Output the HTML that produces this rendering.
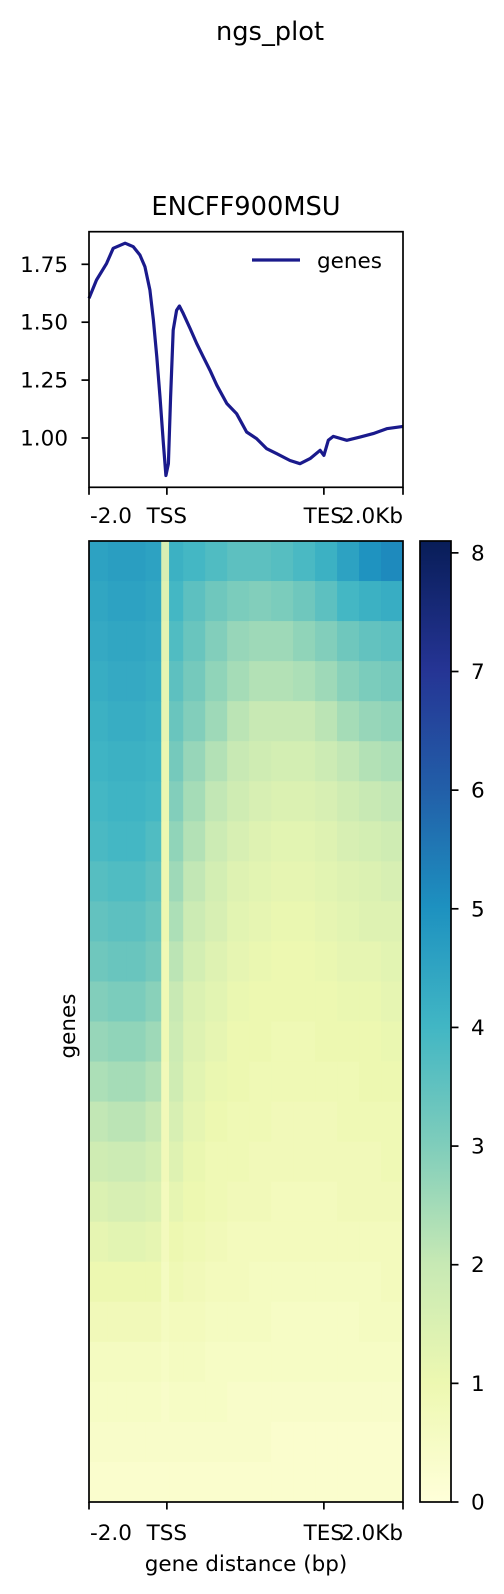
<!DOCTYPE html>
<html><head><meta charset="utf-8"><style>
html,body{margin:0;padding:0;background:#fff;}
svg{display:block;font-family:"DejaVu Sans","Liberation Sans",sans-serif;}
</style></head><body>
<svg id="fig" width="504" height="1594" viewBox="0 0 504 1594">
<defs>
<linearGradient id="cbgrad" x1="0" y1="1" x2="0" y2="0">
<stop offset="0" stop-color="#ffffd9"/><stop offset="0.1238" stop-color="#edf8b1"/>
<stop offset="0.2475" stop-color="#c7e9b4"/><stop offset="0.3713" stop-color="#7fcdbb"/>
<stop offset="0.495" stop-color="#41b6c4"/><stop offset="0.6188" stop-color="#1d91c0"/>
<stop offset="0.7426" stop-color="#225ea8"/><stop offset="0.8663" stop-color="#253494"/>
<stop offset="1" stop-color="#081d58"/>
</linearGradient>
</defs>
<text x="270" y="40" font-size="25.7" text-anchor="middle">ngs_plot</text>
<text x="246" y="215" font-size="25.7" text-anchor="middle">ENCFF900MSU</text>
<g id="profile"></g>
<g id="heat"></g>
<g id="cbar"></g>
<text transform="translate(75,1026) rotate(-90)" font-size="21.5" text-anchor="middle">genes</text>
<text x="246" y="1571" font-size="21.5" text-anchor="middle">gene distance (bp)</text>
</svg>
<script>
// profile data: position (0..100 across -2kb..TSS..TES..+2kb) and mean value
const profPos = [0,2.4,5.6,7.7,11.5,14.1,16.2,17.8,19.4,20.5,21.6,22.6,23.7,24.5,25.3,26.0,26.8,27.9,28.8,30.0,32.2,34.3,36.4,38.5,40.7,43.9,47.0,50.2,53.4,56.6,59.8,64.0,67.2,70.4,73.6,74.8,76.2,77.8,82.1,86.3,90.5,94.8,100];
const profVal = [1.603,1.682,1.754,1.819,1.841,1.826,1.79,1.74,1.639,1.509,1.35,1.177,0.975,0.838,0.889,1.177,1.466,1.552,1.57,1.538,1.473,1.408,1.35,1.293,1.228,1.149,1.105,1.026,0.997,0.954,0.932,0.903,0.889,0.911,0.947,0.925,0.99,1.007,0.99,1.004,1.019,1.04,1.05];
const yTicks = [1.00,1.25,1.50,1.75];
const yTickLabels = ["1.00","1.25","1.50","1.75"];
const xTicks = [0,24.8,74.8,100];
const xTickLabels = ["-2.0","TSS","TES","2.0Kb"];
// heatmap: column bin edges (same 0..100 domain) and row values
const colEdges = [0,6,12,18,23,25.5,30,37,44,51,58,65,72,79,86,93,100];
const heatRows = [
[4.6,4.7,4.7,4.6,1.6,4.2,4.0,3.8,3.6,3.6,3.7,3.9,4.2,4.6,5.0,5.2],
[4.5,4.6,4.6,4.5,1.4,4.0,3.6,3.3,3.1,3.0,3.1,3.3,3.6,4.0,4.2,4.3],
[4.4,4.5,4.5,4.4,1.3,3.8,3.4,3.0,2.7,2.6,2.6,2.8,3.0,3.3,3.5,3.6],
[4.3,4.4,4.4,4.3,1.2,3.6,3.2,2.8,2.5,2.3,2.3,2.4,2.6,2.9,3.1,3.2],
[4.2,4.3,4.3,4.2,1.2,3.4,3.0,2.6,2.2,2.0,2.0,2.0,2.2,2.5,2.7,2.8],
[4.1,4.2,4.2,4.1,1.1,3.2,2.7,2.3,2.0,1.8,1.7,1.7,1.9,2.1,2.3,2.4],
[4.0,4.1,4.1,4.0,1.1,3.0,2.5,2.1,1.8,1.6,1.5,1.5,1.6,1.8,2.0,2.1],
[3.9,4.0,4.0,3.8,1.0,2.8,2.3,1.9,1.6,1.4,1.3,1.3,1.4,1.6,1.7,1.8],
[3.7,3.8,3.8,3.6,1.0,2.6,2.1,1.7,1.4,1.3,1.2,1.2,1.3,1.4,1.5,1.6],
[3.5,3.6,3.6,3.4,1.0,2.4,1.9,1.6,1.3,1.2,1.1,1.1,1.2,1.3,1.4,1.4],
[3.3,3.4,3.4,3.2,0.9,2.2,1.7,1.4,1.2,1.1,1.0,1.0,1.1,1.2,1.2,1.3],
[3.0,3.1,3.1,2.9,0.9,2.0,1.5,1.3,1.1,1.0,1.0,1.0,1.0,1.1,1.1,1.2],
[2.7,2.8,2.8,2.6,0.9,1.9,1.4,1.2,1.0,1.0,0.9,0.9,1.0,1.0,1.0,1.1],
[2.4,2.5,2.5,2.3,0.8,1.8,1.3,1.1,1.0,0.9,0.9,0.9,0.9,0.9,1.0,1.0],
[2.1,2.2,2.2,2.0,0.8,1.6,1.2,1.0,0.9,0.9,0.8,0.8,0.8,0.9,0.9,0.9],
[1.8,1.9,1.9,1.7,0.8,1.4,1.1,0.9,0.9,0.8,0.8,0.8,0.8,0.8,0.8,0.9],
[1.5,1.6,1.6,1.5,0.7,1.2,1.0,0.9,0.8,0.8,0.7,0.7,0.7,0.8,0.8,0.8],
[1.2,1.3,1.3,1.2,0.7,1.0,0.9,0.8,0.7,0.7,0.7,0.7,0.7,0.7,0.7,0.7],
[1.0,1.0,1.0,1.0,0.6,0.9,0.8,0.7,0.7,0.6,0.6,0.6,0.6,0.6,0.6,0.7],
[0.8,0.8,0.8,0.8,0.6,0.7,0.7,0.6,0.6,0.6,0.5,0.5,0.5,0.5,0.6,0.6],
[0.6,0.6,0.6,0.6,0.5,0.6,0.6,0.5,0.5,0.5,0.5,0.5,0.5,0.5,0.5,0.5],
[0.5,0.5,0.5,0.5,0.4,0.5,0.5,0.5,0.4,0.4,0.4,0.4,0.4,0.4,0.4,0.4],
[0.4,0.4,0.4,0.4,0.4,0.4,0.4,0.4,0.4,0.4,0.3,0.3,0.3,0.3,0.3,0.3],
[0.3,0.3,0.3,0.3,0.3,0.3,0.3,0.3,0.3,0.3,0.3,0.3,0.3,0.3,0.3,0.3]
];
const cbTicks = [0,1,2,3,4,5,6,7,8];
const cbMax = 8.1;

const NS = "http://www.w3.org/2000/svg";
function mk(tag, attrs, parent){const e=document.createElementNS(NS,tag);for(const k in attrs)e.setAttribute(k,attrs[k]);parent.appendChild(e);return e;}
const AX = {l:89, r:403};
const xS = d => AX.l + (AX.r-AX.l)*d/100;
const P = {t:231.7, b:487.3};
const yS = v => 438 - (v-1.0)*231.6;
const cmapStops = ["#ffffd9","#edf8b1","#c7e9b4","#7fcdbb","#41b6c4","#1d91c0","#225ea8","#253494","#081d58"];
function hex(c){return [parseInt(c.slice(1,3),16),parseInt(c.slice(3,5),16),parseInt(c.slice(5,7),16)];}
function cmap(v){let t=Math.max(0,Math.min(1,v/cbMax))*8;let i=Math.min(7,Math.floor(t));let f=t-i;const a=hex(cmapStops[i]),b=hex(cmapStops[i+1]);return "rgb("+a.map((x,k)=>Math.round(x+(b[k]-x)*f)).join(",")+")";}

// profile
const pg=document.getElementById('profile');
let d=profPos.map((p,i)=>(i?"L":"M")+xS(p).toFixed(1)+","+yS(profVal[i]).toFixed(1)).join("");
const line=mk('path',{d:d,fill:"none",stroke:"#1a1a8c","stroke-width":3.2,"stroke-linejoin":"round"},pg);


const pframe=mk('rect',{x:AX.l,y:P.t,width:AX.r-AX.l,height:P.b-P.t,fill:"none",stroke:"#000","stroke-width":1.7},pg);


yTicks.forEach((v,i)=>{const y=yS(v);
 mk('line',{x1:AX.l-7.5,x2:AX.l,y1:y,y2:y,stroke:"#000","stroke-width":1.7},pg);
 const t=mk('text',{x:68,y:y+7.5,"font-size":21.5,"text-anchor":"end"},pg);t.textContent=yTickLabels[i];
 
 
});
function xAxis(g,yb,ty){xTicks.forEach((p,i)=>{const x=xS(p);
 mk('line',{x1:x,x2:x,y1:yb,y2:yb+7.5,stroke:"#000","stroke-width":1.7},g);
 const anc=i==0?"start":(i==3?"end":"middle");
 const t=mk('text',{x:i==0?x+1:(i==3?x:x),y:ty,"font-size":21.5,"text-anchor":anc},g);t.textContent=xTickLabels[i];
 
 
});}
xAxis(pg,P.b,523);
mk('line',{x1:252,x2:300,y1:260,y2:260,stroke:"#1a1a8c","stroke-width":3.2},pg);
const lg=mk('text',{x:317,y:268,"font-size":21.5},pg);lg.textContent="genes";



// heatmap
const hg=document.getElementById('heat');
const H={t:541,b:1502};const rowH=(H.b-H.t)/heatRows.length;
heatRows.forEach((row,r)=>{row.forEach((v,c)=>{
 const x0=xS(colEdges[c]),x1=xS(colEdges[c+1]);
 const cell=mk('rect',{x:x0,y:H.t+r*rowH,width:x1-x0+0.5,height:rowH+0.5,fill:cmap(v)},hg);
 
 
});});
const hframe=mk('rect',{x:AX.l,y:H.t,width:AX.r-AX.l,height:H.b-H.t,fill:"none",stroke:"#000","stroke-width":1.7},hg);


xAxis(hg,H.b,1540);

// colorbar
const cg=document.getElementById('cbar');
const cbS=v=>H.b-(H.b-H.t)*v/cbMax;
const cb=mk('rect',{x:420,y:H.t,width:31,height:H.b-H.t,fill:"url(#cbgrad)",stroke:"#000","stroke-width":1.7},cg);


cbTicks.forEach(v=>{const y=cbS(v);
 mk('line',{x1:451,x2:458.5,y1:y,y2:y,stroke:"#000","stroke-width":1.7},cg);
 const t=mk('text',{x:471,y:y+7.5,"font-size":21.5},cg);t.textContent=String(v);
 
 
});
</script>
</body></html>
